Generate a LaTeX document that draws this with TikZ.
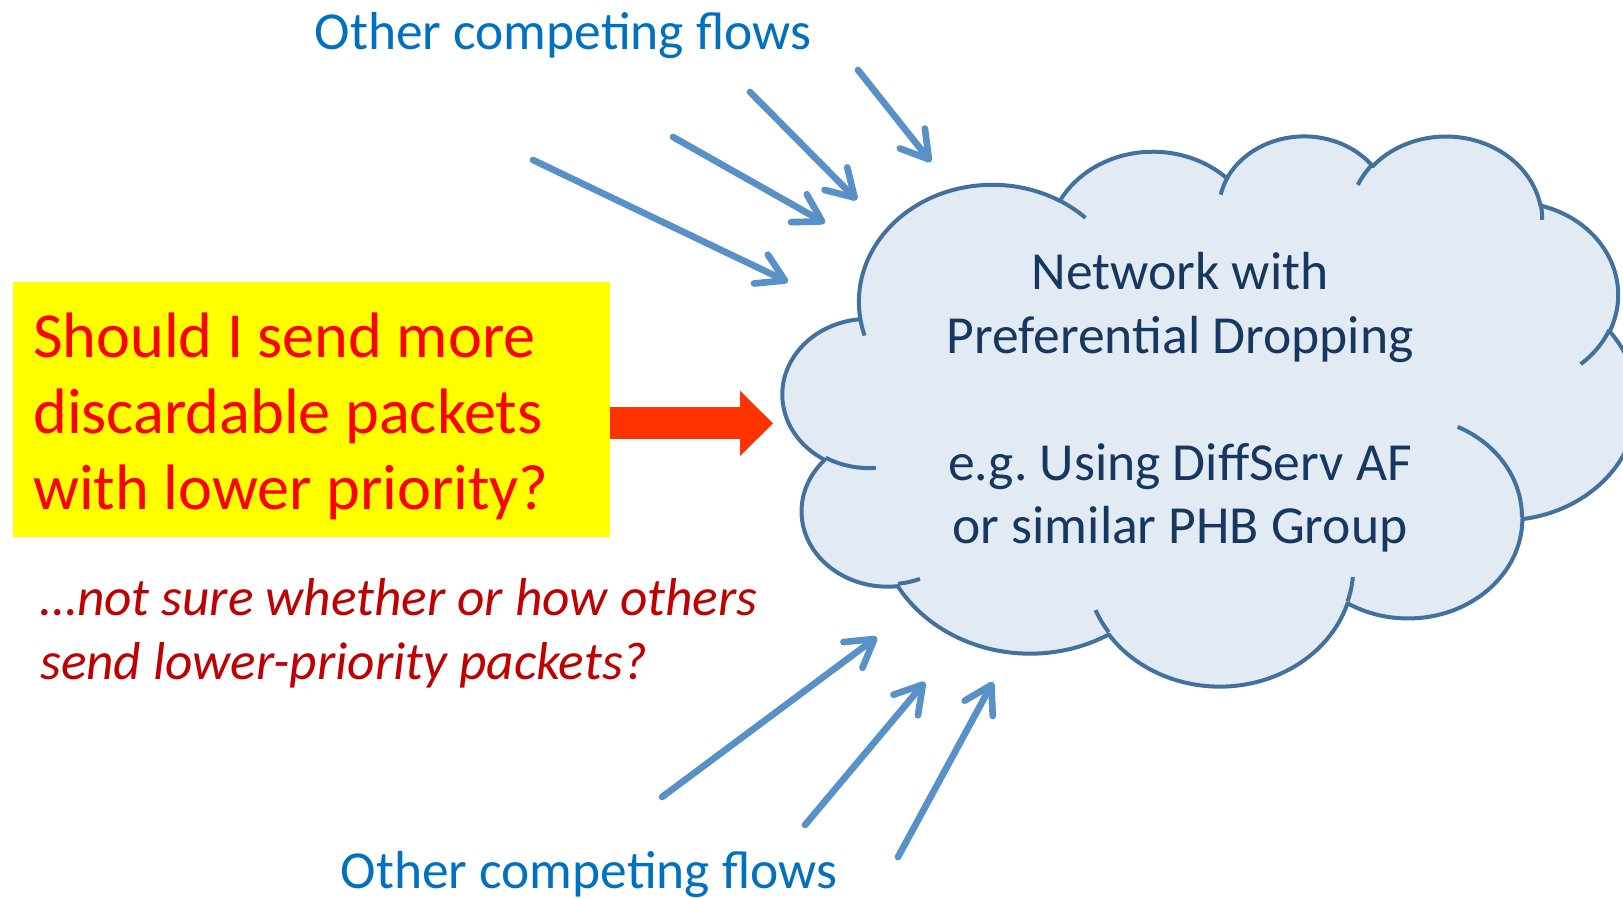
\documentclass[tikz,border=0pt]{standalone}
\usepackage{fontspec}
\setmainfont{Carlito}
\usepackage{xcolor}
\usetikzlibrary{arrows.meta,positioning}
\frenchspacing
\definecolor{cloudfill}{RGB}{226,234,244}
\definecolor{cloudline}{RGB}{65,113,156}
\definecolor{cloudtext}{RGB}{23,55,94}
\definecolor{flowblue}{RGB}{88,144,200}
\definecolor{flowtext}{RGB}{0,112,192}
\definecolor{askyellow}{RGB}{255,255,0}
\definecolor{askred}{RGB}{255,0,0}
\definecolor{doubtred}{RGB}{192,0,0}
\definecolor{pushred}{RGB}{255,51,0}
% one lobe of the cloud: x radius, y radius, start, sweep (visual angles)
\newcommand\lobe[4]{arc[start angle={atan2(#1*sin(#3),#2*cos(#3))},
  delta angle={mod(atan2(#1*sin(#3+#4),#2*cos(#3+#4))-atan2(#1*sin(#3),#2*cos(#3))+720,360)},
  x radius=#1, y radius=#2]}
\tikzset{
  askbox/.style={
    fill=askyellow,
    inner sep=0pt,
    minimum width=447.75pt,
    minimum height=191.25pt,
    anchor=north west
  },
  asktext/.style={
    text=askred,
    font=\fontsize{48.2}{57}\selectfont,
    align=left,
    inner sep=0pt,
    anchor=north west
  },
  doubt/.style={
    text=doubtred,
    font=\fontsize{40}{48}\selectfont\itshape,
    align=left,
    inner sep=0pt,
    anchor=north west
  },
  flowlabel/.style={
    text=flowtext,
    font=\fontsize{40.1}{48}\selectfont,
    inner sep=0pt,
    anchor=base
  },
  cloudlabel/.style={
    text=cloudtext,
    font=\fontsize{40.2}{47.6}\selectfont,
    align=center,
    inner sep=0pt,
    anchor=north
  },
}
\tikzset{
  netcloud/.style={
    fill=cloudfill,
    draw=cloudline,
    line width=3pt,
    line join=round
  },
  cloudstub/.style={
    draw=cloudline,
    line width=3pt
  },
  flow/.style={
    draw=flowblue,
    line width=5pt,
    line cap=round,
    -{Straight Barb[round,length=20pt,width=24pt]}
  },
  push/.style={
    draw=pushred,
    line width=24pt,
    -{Triangle[length=24.75pt,width=49pt,line width=0pt]}
  }
}
\begin{document}
\begin{tikzpicture}[x=0.75pt,y=-0.75pt]
    \useasboundingbox (0,0) rectangle (1623,898);

    % the network cloud
    \begin{scope}[shift={(783,134.6)}, xscale=854/432, yscale=550/432]
      \draw[netcloud] (39.00,143.70)
        \lobe{67.53}{91.90}{-190.4875}{123.7805}
        \lobe{53.33}{72.67}{-144.1024}{89.9452}
        \lobe{43.65}{59.45}{-145.8079}{99.7230}
        \lobe{48.57}{65.95}{-130.9861}{117.2417}
        \lobe{53.33}{72.73}{-78.7089}{109.0269}
        \lobe{67.75}{92.20}{-46.2673}{130.2690}
        \lobe{57.85}{78.67}{0.6250}{114.0333}
        \lobe{67.52}{92.15}{22.4516}{115.1726}
        \lobe{77.20}{105.43}{66.2426}{75.7110}
        \lobe{43.60}{59.18}{-274.9421}{146.7356}
        \lobe{43.45}{59.45}{-246.8285}{152.5189} -- cycle;
      \draw[cloudstub]
        (46.93,261.77) \lobe{43.45}{59.45}{86.7420}{26.4295}
        (69.28,348.99) \lobe{43.60}{59.18}{73.6105}{11.4475}
        (164.78,390.90) \lobe{67.52}{92.15}{137.6242}{14.0811}
        (288.27,347.51) \lobe{67.52}{92.15}{6.4533}{15.9984}
        (341.29,229.54) \lobe{57.85}{78.67}{-70.2924}{70.9174}
        (417.98,153.54) \lobe{53.33}{72.73}{30.3180}{27.7515}
        (383.24,54.26) \lobe{48.57}{65.95}{-13.7443}{14.8589}
        (290.78,39.52) \lobe{48.57}{65.95}{-149.1815}{18.1954}
        (221.41,47.20) \lobe{43.65}{59.45}{-163.4943}{17.6864}
        (140.00,51.92) \lobe{67.53}{91.90}{-66.7070}{12.3194}
        (41.27,157.89) \lobe{67.53}{91.90}{157.6544}{11.8582};
    \end{scope}
    \node[cloudlabel] (net) at (1180,245.2) {\strut Network with\\Preferential Dropping\\[47.6pt]e.g. Using DiffServ AF\\or similar PHB Group};

    \node[askbox] (ask) at (12.8,282) {};
    \node[asktext] (askq) at (33,303.8) {\strut Should I send more\\discardable packets\\with lower priority?};
    \node[doubt] (unsure) at (40,570.2) {\strut …not sure whether or how others\\send lower-priority packets?};

    \coordinate (pushtip) at (773,423.4);
    \draw[push] (ask.east |- pushtip) -- (pushtip);

    \node[flowlabel] (topflows) at (563,49.7) {Other competing flows};
    \node[flowlabel] (lowflows) at (589,888) {Other competing flows};

    % flows from above
    \coordinate (a1) at (533,160);  \coordinate (a1e) at (788,282);
    \coordinate (a2) at (673,137);  \coordinate (a2e) at (825,223);
    \coordinate (a3) at (750,92);   \coordinate (a3e) at (857,200);
    \coordinate (a4) at (858,70);   \coordinate (a4e) at (931,162);
    \draw[flow] (a1) -- (a1e);
    \draw[flow] (a2) -- (a2e);
    \draw[flow] (a3) -- (a3e);
    \draw[flow] (a4) -- (a4e);

    % flows from below
    \coordinate (b1) at (662,797);  \coordinate (b1e) at (877,637);
    \coordinate (b2) at (805,825);  \coordinate (b2e) at (925,682);
    \coordinate (b3) at (898,857);  \coordinate (b3e) at (993,682);
    \draw[flow] (b1) -- (b1e);
    \draw[flow] (b2) -- (b2e);
    \draw[flow] (b3) -- (b3e);
\end{tikzpicture}
\end{document}
